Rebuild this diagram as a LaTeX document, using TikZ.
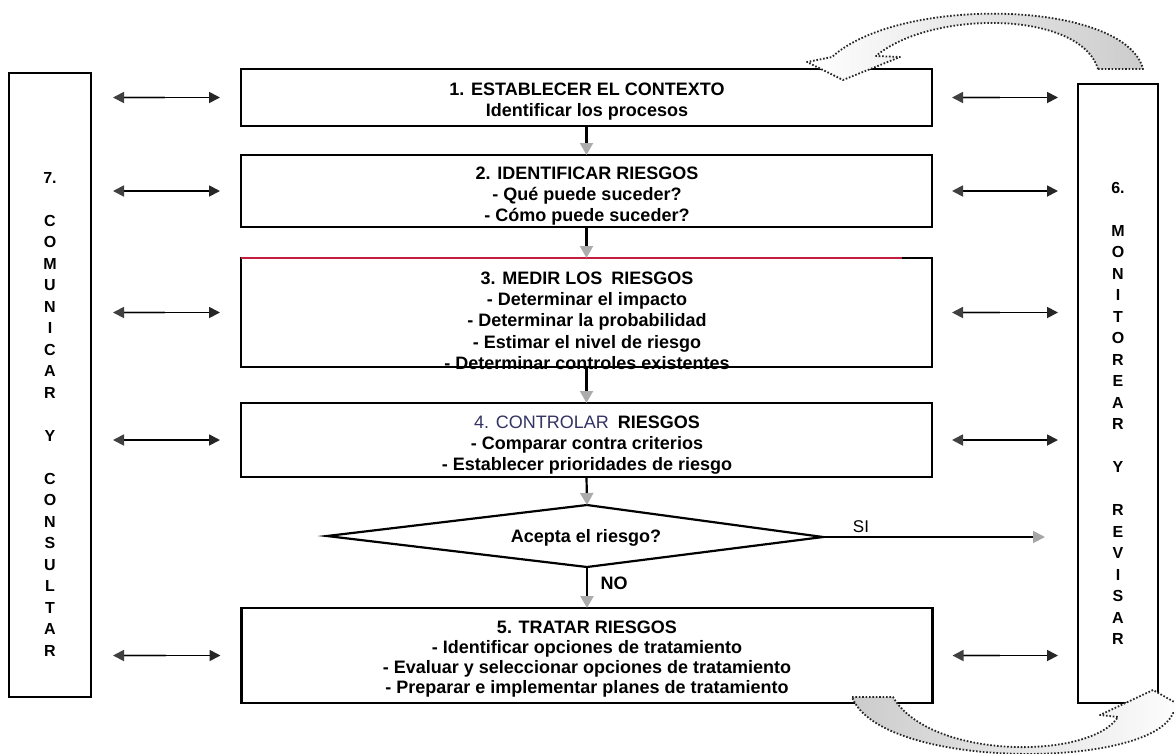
\documentclass[tikz,border=0pt]{standalone}
\usepackage{fontspec}
\setmainfont{Liberation Sans}
\usetikzlibrary{arrows.meta,calc}
\definecolor{boxred}{RGB}{196,30,62}
\definecolor{navytxt}{RGB}{52,52,100}
\begin{document}
\begin{tikzpicture}[x=1pt,y=-1pt,
  box/.style={draw=black, line width=2.1pt, minimum width=691pt, inner sep=0pt, outer sep=0pt},
  sidebox/.style={draw=black, line width=2.1pt, inner sep=0pt, outer sep=0pt},
  txt/.style={font=\bfseries\fontsize{18}{21.3}\selectfont, align=center, inner sep=0pt},
  sidetxt/.style={font=\bfseries\fontsize{16}{21.5}\selectfont, align=center, inner sep=0pt},
  varrow/.style={line width=2.2pt, -{Triangle[length=12pt,width=13pt,color=gray!65]}},
  sidearrow/.style={line width=1.8pt, {Triangle[length=11pt,width=11pt,color=black!75]}-{Triangle[length=11pt,width=11pt,color=black!85]}},
  sidegray/.style={line width=2.4pt, draw=gray!55},
  curvarrow/.style={draw=black!85, line width=1.8pt, dash pattern=on 1.6pt off 1.8pt, line join=round}
]
\useasboundingbox (0,0) rectangle (1175,753);
\fill[white] (0,0) rectangle (1175,753);

% main boxes
\node[box, minimum height=57pt]  (b1) at (586.5,97.5) {};
\node[box, minimum height=72pt]  (b2) at (586.5,191) {};
\node[box, minimum height=109pt] (b3) at (586.5,312.5) {};
\node[box, minimum height=74pt]  (b4) at (586.5,440) {};
\node[box, minimum height=95pt]  (b5) at (587,655.5) {};
\draw[boxred, line width=2.1pt] (b3.north west) -- ($(b3.north east)+(-30,0)$);

% side boxes
\node[sidebox, minimum width=82pt, minimum height=624pt] (lb) at (50,385) {};
\node[sidebox, minimum width=80pt, minimum height=619pt] (rb) at (1118,393.5) {};

% texts in boxes
\node[txt, anchor=north] (t1) at (587,82.5) {1. ESTABLECER EL CONTEXTO\\Identificar los procesos};
\node[txt, anchor=north] (t2) at (587,166.5) {2. IDENTIFICAR RIESGOS\\- Qué puede suceder?\\- Cómo puede suceder?};
\node[txt, anchor=north] (t3) at (587,271.5) {3. MEDIR LOS\hspace{4pt} RIESGOS\\- Determinar el impacto\\- Determinar la probabilidad\\- Estimar el nivel de riesgo\\- Determinar controles existentes};
\node[txt, anchor=north] (t4) at (587,415.5) {{\mdseries\color{navytxt}4. CONTROLAR}\hspace{4pt} RIESGOS\\- Comparar contra criterios\\- Establecer prioridades de riesgo};
\node[txt, anchor=north, font=\bfseries\fontsize{18}{20.2}\selectfont] (t5) at (587,620.5) {5. TRATAR RIESGOS\\- Identificar opciones de tratamiento\\- Evaluar y seleccionar opciones de tratamiento\\- Preparar e implementar planes de tratamiento};

% side texts
\node[sidetxt, anchor=north] (lt) at (50,172) {7.\\[21.5pt]C\\O\\M\\U\\N\\I\\C\\A\\R\\[21.5pt]Y\\[21.5pt]C\\O\\N\\S\\U\\L\\T\\A\\R};
\node[sidetxt, anchor=north] (rt) at (1118,182) {6.\\[21.5pt]M\\O\\N\\I\\T\\O\\R\\E\\A\\R\\[21.5pt]Y\\[21.5pt]R\\E\\V\\I\\S\\A\\R};

% decision diamond
\coordinate (dL) at (327,536);
\coordinate (dT) at (587,505);
\coordinate (dR) at (823,537);
\coordinate (dB) at (587,567);
\draw[line width=2.2pt, line join=miter] (dL) -- (dT) -- (dR) -- (dB) -- cycle;
\node[txt] (dq) at (586,538) {Acepta el riesgo?};

% vertical flow
\draw[varrow] (b1.south) -- (b2.north);
\draw[varrow] (b2.south) -- (b3.north);
\draw[varrow] (b3.south) -- (b4.north);
\draw[varrow] (b4.south) -- (dT);
\draw[varrow] (dB) -- (b5.north);
\node[font=\bfseries\fontsize{18}{20}\selectfont, inner sep=0pt] (no) at (614,583) {NO};

% SI branch
\coordinate (siEnd) at (1045,537);
\draw[line width=1.8pt, -{Triangle[length=12pt,width=12pt,color=gray!70]}] (dR) -- (siEnd);
\node[font=\fontsize{17}{20}\selectfont, inner sep=0pt] (si) at (861,527) {SI};

% side double arrows
\foreach \i in {1,...,5}{
  \draw[sidegray, shorten <=30pt, shorten >=76pt] (lb.east |- b\i.west) -- (b\i.west);
  \draw[sidearrow, shorten <=22pt, shorten >=21pt] (lb.east |- b\i.west) -- (b\i.west);
  \draw[sidegray, shorten <=27pt, shorten >=78pt] (b\i.east) -- (rb.west |- b\i.east);
  \draw[sidearrow, shorten <=20pt, shorten >=20pt] (b\i.east) -- (rb.west |- b\i.east);
}

% curved block arrows
\begin{scope}
\clip (0,0) rectangle (1175,753);
\path[curvarrow, left color=white, middle color=white, right color=gray!40]
  (1098,69) -- (1143,69) .. controls (1125,0) and (900,-5) .. (832,57)
  -- (807,62) -- (843,80) -- (900,57) -- (876,56)
  .. controls (930,10) and (1080,10) .. (1098,69) -- cycle;
\path[curvarrow, left color=gray!40, middle color=white, right color=white]
  (852,697) -- (893,697) .. controls (930,760) and (1090,760) .. (1118,717)
  -- (1100,715) -- (1153,690) -- (1192,712) -- (1173,713)
  .. controls (1150,770) and (880,770) .. (852,697) -- cycle;
\end{scope}
\end{tikzpicture}
\end{document}
